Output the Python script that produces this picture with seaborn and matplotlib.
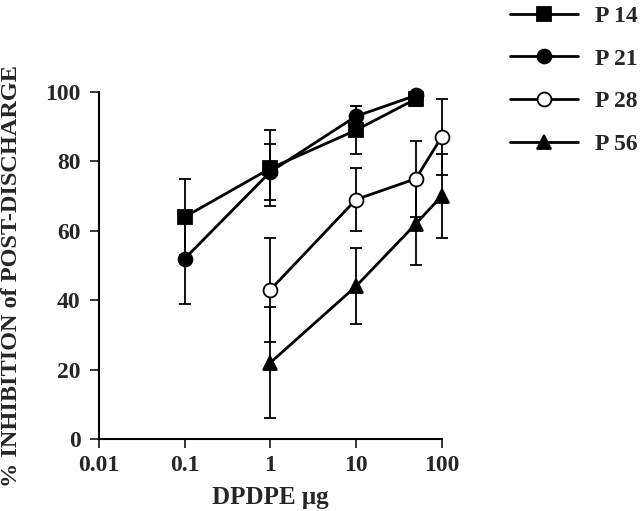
import numpy as np
import pandas as pd
import matplotlib
matplotlib.use("Agg")
import matplotlib.pyplot as plt
import seaborn as sns

# values
groups = ["P 14", "P 21", "P 28", "P 56"]
dose_p14 = [0.1, 1, 10, 50]
inh_p14 = [64, 78, 89, 98]
err_p14 = [11, 11, 7, 2]
dose_p21 = [0.1, 1, 10, 50]
inh_p21 = [52, 77, 93, 99]
err_p21 = [13, 8, 3, 1]
dose_p28 = [1, 10, 50, 100]
inh_p28 = [43, 69, 75, 87]
err_p28 = [15, 9, 11, 11]
dose_p56 = [1, 10, 50, 100]
inh_p56 = [22, 44, 62, 70]
err_p56 = [16, 11, 12, 12]

x_ticks = [0.01, 0.1, 1, 10, 100]
x_ticklabels = ["0.01", "0.1", "1", "10", "100"]
y_ticks = [0, 20, 40, 60, 80, 100]

df = pd.concat([
    pd.DataFrame({"dose": dose_p14, "inh": inh_p14, "err": err_p14, "group": "P 14"}),
    pd.DataFrame({"dose": dose_p21, "inh": inh_p21, "err": err_p21, "group": "P 21"}),
    pd.DataFrame({"dose": dose_p28, "inh": inh_p28, "err": err_p28, "group": "P 28"}),
    pd.DataFrame({"dose": dose_p56, "inh": inh_p56, "err": err_p56, "group": "P 56"}),
], ignore_index=True)

sns.set_style("ticks")
plt.rcParams["font.family"] = ["Liberation Serif", "DejaVu Serif"]
plt.rcParams["font.weight"] = "bold"

fig = plt.figure(figsize=(6.4, 5.11), dpi=100)
ax = fig.add_axes([0.155, 0.141, 0.535, 0.679])

styles = {
    "P 14": dict(marker="s", mfc="black", ms=9.5),
    "P 21": dict(marker="o", mfc="black", ms=10),
    "P 28": dict(marker="o", mfc="white", ms=10),
    "P 56": dict(marker="^", mfc="black", ms=10.5),
}

# error bars first, lines + markers on top
for g in groups:
    sub = df[df["group"] == g]
    ax.errorbar(sub["dose"], sub["inh"], yerr=sub["err"], fmt="none",
                ecolor="black", elinewidth=1.3, capsize=4.5, capthick=1.3,
                clip_on=False, zorder=2)

for g in groups:
    sub = df[df["group"] == g]
    st = styles[g]
    sns.lineplot(data=sub, x="dose", y="inh", ax=ax, color="black",
                 linewidth=2, marker=st["marker"], markersize=st["ms"],
                 markerfacecolor=st["mfc"], markeredgecolor="black",
                 markeredgewidth=1.3, clip_on=False, zorder=3, label=g)

ax.set_xscale("log")
ax.set_xlim(0.01, 100)
ax.set_ylim(0, 100)
ax.set_xticks(x_ticks)
ax.set_xticklabels(x_ticklabels)
ax.minorticks_off()
ax.set_yticks(y_ticks)
ax.tick_params(axis="both", labelsize=17, width=1.3, length=6.5, direction="out")
ax.tick_params(axis="x", pad=5)
ax.tick_params(axis="y", pad=7)
for lab in ax.get_xticklabels() + ax.get_yticklabels():
    lab.set_fontweight("bold")
sns.despine(ax=ax)
for s in ["left", "bottom"]:
    ax.spines[s].set_linewidth(1.5)
    ax.spines[s].set_color("black")

ax.set_xlabel("DPDPE \u03bcg", fontsize=18, fontweight="bold")
ax.xaxis.set_label_coords(0.5, -0.135)
ax.set_ylabel("% INHIBITION of POST-DISCHARGE", fontsize=17.5, fontweight="bold")
ax.yaxis.set_label_coords(-0.225, 0.47)

h, l = ax.get_legend_handles_labels()
ax.get_legend().remove()
fig.legend(h, l, loc="upper left", bbox_to_anchor=(0.763, 1.031), frameon=False,
           handlelength=2.9, labelspacing=0.9, handletextpad=0.72,
           prop={"weight": "bold", "size": 17})

fig.savefig("out.png", dpi=100, facecolor="white")
